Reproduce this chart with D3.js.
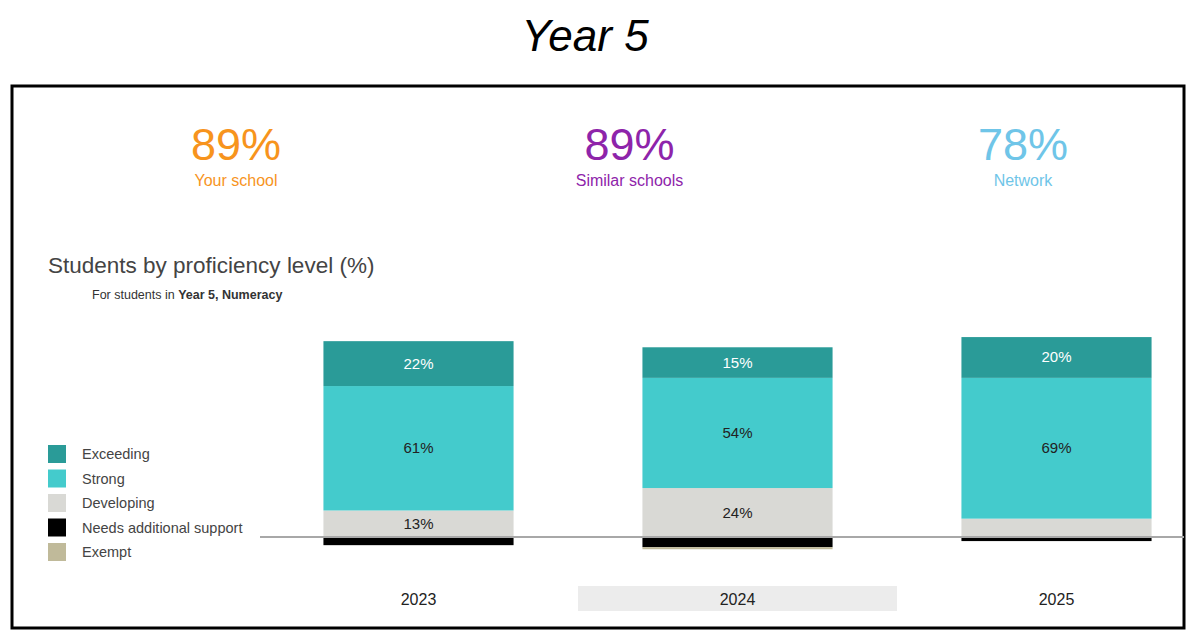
<!DOCTYPE html>
<html>
<head>
<meta charset="utf-8">
<script src="https://cdn.jsdelivr.net/npm/d3@7"></script>
<style>
  html, body { margin: 0; padding: 0; background: #fff; }
  svg { display: block; font-family: "Liberation Sans", Arial, sans-serif; }
</style>
</head>
<body>
<svg id="chart" width="1200" height="640"></svg>
<script>
// ---- Data ----
const years = ["2023", "2024", "2025"];
const exceeding = [22, 15, 20];
const strong = [61, 54, 69];
const developing = [13, 24, 9];
const needsSupport = [4, 5, 2];
const exempt = [0, 1, 0];

const levelNames = ["Exceeding", "Strong", "Developing", "Needs additional support", "Exempt"];
const levelColors = ["#2a9b98", "#44cbcc", "#d9d9d5", "#000000", "#c0ba9a"];

const statValues = ["89%", "89%", "78%"];
const statLabels = ["Your school", "Similar schools", "Network"];
const statColors = ["#f7941d", "#8e24aa", "#6fc5e8"];

const highlightYear = "2024";

// ---- Layout ----
const svg = d3.select("#chart");

// Page title
svg.append("text")
  .attr("x", 585).attr("y", 51)
  .attr("text-anchor", "middle")
  .attr("font-size", 44).attr("font-style", "italic")
  .attr("fill", "#000")
  .text("Year 5");

// Frame
svg.append("rect")
  .attr("x", 12).attr("y", 86).attr("width", 1172).attr("height", 542)
  .attr("fill", "none").attr("stroke", "#000").attr("stroke-width", 3);

// Header stats
const statX = d3.scalePoint().domain(statLabels).range([236, 1023]);
const stats = svg.append("g").selectAll("g").data(statLabels).join("g")
  .attr("transform", d => `translate(${statX(d)},0)`);
stats.append("text")
  .attr("y", 160).attr("text-anchor", "middle")
  .attr("font-size", 45)
  .attr("fill", (d, i) => statColors[i])
  .text((d, i) => statValues[i]);
stats.append("text")
  .attr("y", 186).attr("text-anchor", "middle")
  .attr("font-size", 16)
  .attr("fill", (d, i) => statColors[i])
  .text(d => d);

// Chart title
svg.append("text")
  .attr("x", 48).attr("y", 273)
  .attr("font-size", 22.5).attr("fill", "#444")
  .text("Students by proficiency level (%)");
const sub = svg.append("text")
  .attr("x", 92).attr("y", 299)
  .attr("font-size", 12.5).attr("fill", "#333");
sub.append("tspan").text("For students in ");
sub.append("tspan").attr("font-weight", "bold").text("Year 5, Numeracy");

// Scales
const x = d3.scaleBand().domain(years).range([259, 1216]).paddingInner(0.404).paddingOuter(0.202);
const y = d3.scaleLinear().domain([0, 100]).range([537, 333]);
const step = x.step();

// Highlight for selected year
svg.append("rect")
  .attr("x", x(highlightYear) + x.bandwidth() / 2 - step / 2)
  .attr("y", 586).attr("width", step).attr("height", 25)
  .attr("fill", "#ececec");

// Build segments
const rows = years.map((yr, i) => {
  const segs = [];
  let top = 0;
  [[2, developing[i]], [1, strong[i]], [0, exceeding[i]]].forEach(([k, v]) => {
    segs.push({ yr, k, v, y0: top, y1: top + v, pos: true });
    top += v;
  });
  let bot = 0;
  [[3, needsSupport[i]], [4, exempt[i]]].forEach(([k, v]) => {
    segs.push({ yr, k, v, y0: bot - v, y1: bot, pos: false });
    bot -= v;
  });
  return segs;
});
const segs = rows.flat().filter(s => s.v > 0);

svg.append("g").selectAll("rect").data(segs).join("rect")
  .attr("x", d => x(d.yr))
  .attr("width", x.bandwidth())
  .attr("y", d => y(d.y1))
  .attr("height", d => y(d.y0) - y(d.y1))
  .attr("fill", d => levelColors[d.k]);

// Baseline axis line
svg.append("line")
  .attr("x1", 260).attr("x2", 1184)
  .attr("y1", y(0)).attr("y2", y(0))
  .attr("stroke", "#a8a8a8").attr("stroke-width", 2);

// Value labels
svg.append("g").selectAll("text").data(segs.filter(s => s.pos && s.v >= 10)).join("text")
  .attr("x", d => x(d.yr) + x.bandwidth() / 2)
  .attr("y", d => (y(d.y0) + y(d.y1)) / 2 + 5)
  .attr("text-anchor", "middle")
  .attr("font-size", 15)
  .attr("fill", d => d.k === 0 ? "#ffffff" : "#222")
  .text(d => d.v + "%");

// X axis labels
const xAxis = d3.axisBottom(x).tickSize(0).tickPadding(0);
const xg = svg.append("g").attr("transform", "translate(0,594)").call(xAxis);
xg.select(".domain").remove();
xg.selectAll("text").attr("font-size", 16).attr("fill", "#222")
  .attr("font-family", "Liberation Sans, Arial, sans-serif");

// Legend
const legend = svg.append("g").selectAll("g").data(levelNames).join("g")
  .attr("transform", (d, i) => `translate(48,${445 + i * 24.5})`);
legend.append("rect")
  .attr("width", 18).attr("height", 18)
  .attr("fill", (d, i) => levelColors[i]);
legend.append("text")
  .attr("x", 34).attr("y", 14)
  .attr("font-size", 14.5).attr("fill", "#444")
  .text(d => d);
</script>
</body>
</html>
